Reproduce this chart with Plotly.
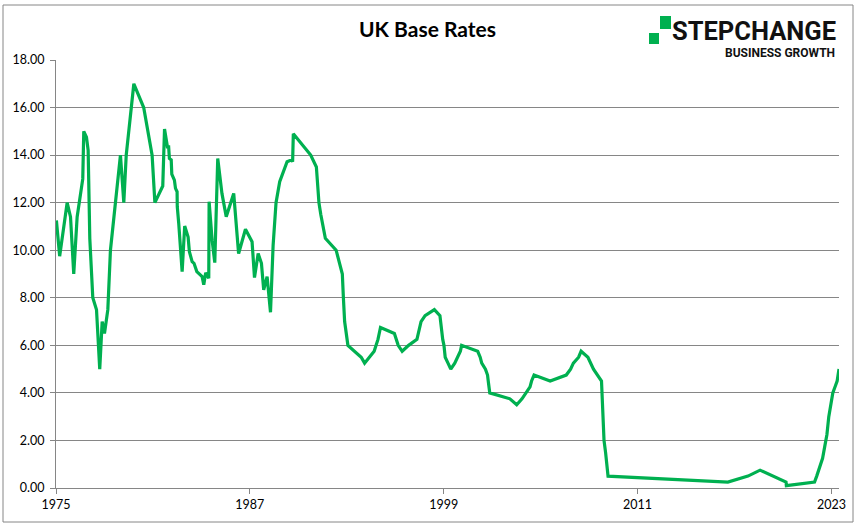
import plotly.graph_objects as go

# ---------------- data ----------------
dates = [
    "1975-01-10", "1975-03-25", "1975-09-10", "1975-11-25", "1976-02-06", "1976-04-23",
    "1976-08-28", "1976-09-20", "1976-11-20", "1976-12-28", "1977-02-03", "1977-03-07",
    "1977-03-28", "1977-04-12", "1977-07-05", "1977-07-20", "1977-09-16", "1977-11-10",
    "1978-01-01", "1978-03-18", "1978-04-10", "1978-05-16", "1978-12-28", "1979-03-14",
    "1979-05-08", "1979-10-27", "1980-06-06", "1980-12-13", "1981-02-14", "1981-08-11",
    "1981-09-20", "1981-11-03", "1981-11-24", "1981-12-22", "1982-01-08", "1982-02-18",
    "1982-03-03", "1982-05-01", "1982-05-26", "1982-07-01", "1982-07-05", "1982-08-07",
    "1982-10-23", "1982-12-20", "1983-03-07", "1983-04-05", "1983-06-06", "1983-07-19",
    "1983-09-20", "1984-01-18", "1984-02-24", "1984-04-08", "1984-06-16", "1984-06-24",
    "1984-09-01", "1984-10-30", "1985-01-05", "1985-04-10", "1985-07-16", "1986-01-01",
    "1986-04-22", "1986-09-24", "1987-02-20", "1987-04-16", "1987-07-08", "1987-09-20",
    "1987-11-10", "1988-01-26", "1988-04-12", "1988-06-10", "1988-08-15", "1988-11-06",
    "1989-04-22", "1989-08-05", "1989-08-25", "1989-09-10",
    "1990-10-08", "1991-02-13", "1991-02-27", "1991-03-22", "1991-04-12", "1991-05-24",
    "1991-07-12", "1991-09-04", "1992-05-05", "1992-09-22", "1992-10-16", "1992-11-13",
    "1993-01-26", "1993-11-23", "1994-02-08", "1994-09-12", "1994-12-07", "1995-02-02",
    "1995-12-13", "1996-01-18", "1996-03-08", "1996-06-06", "1996-10-30", "1997-05-06",
    "1997-06-06", "1997-07-10", "1997-08-07", "1997-11-06", "1998-06-04", "1998-10-08",
    "1998-11-05", "1998-12-10", "1999-01-07", "1999-02-04", "1999-04-08", "1999-06-10",
    "1999-09-08", "1999-11-04", "2000-01-13", "2000-02-10", "2001-02-08", "2001-04-05",
    "2001-05-10", "2001-08-02", "2001-09-18", "2001-10-04", "2001-11-08", "2003-02-06",
    "2003-07-10", "2003-11-06", "2004-02-05", "2004-05-06", "2004-06-10", "2004-08-05",
    "2005-08-04", "2006-08-03", "2006-11-09", "2007-01-11", "2007-05-10", "2007-07-05",
    "2007-12-06", "2008-02-07", "2008-04-10", "2008-10-08", "2008-11-06", "2008-12-04",
    "2009-01-08", "2009-02-05", "2009-03-05", "2016-08-04", "2017-11-02", "2018-08-02",
    "2020-03-11", "2020-03-19", "2021-12-16", "2022-02-03", "2022-03-17", "2022-05-05",
    "2022-06-16", "2022-08-04", "2022-09-22", "2022-11-03", "2022-12-15", "2023-02-02",
    "2023-03-23", "2023-05-11", "2023-06-22",
]
rates = [
    11.25, 9.75, 12.0, 11.4, 9.0, 11.4,
    13.0, 15.0, 14.75, 14.2, 10.5, 9.5,
    8.8, 8.0, 7.5, 7.0, 5.0, 7.0,
    6.5, 7.5, 8.8, 10.0, 14.0, 12.0,
    14.0, 17.0, 16.0, 14.0, 12.0, 12.7,
    15.1, 14.6, 14.35, 14.35, 13.86, 13.8,
    13.2, 12.95, 12.6, 12.46, 11.83, 11.13,
    9.1, 11.02, 10.55, 9.94, 9.52, 9.45,
    9.1, 8.89, 8.55, 9.05, 8.82, 12.04,
    10.4, 9.48, 13.86, 12.39, 11.41, 12.39,
    9.86, 10.88, 10.36, 8.85, 9.86, 9.45,
    8.33, 8.89, 7.39, 10.2, 12.0, 12.88,
    13.72, 13.8, 13.72, 14.9,
    14.0, 13.5, 13.0, 12.5, 12.0, 11.5,
    11.0, 10.5, 10.0, 9.0, 8.0, 7.0,
    6.0, 5.5, 5.25, 5.75, 6.25, 6.75,
    6.5, 6.25, 6.0, 5.75, 6.0, 6.25,
    6.5, 6.75, 7.0, 7.25, 7.5, 7.25,
    6.75, 6.25, 6.0, 5.5, 5.25, 5.0,
    5.25, 5.5, 5.75, 6.0, 5.75, 5.5,
    5.25, 5.0, 4.75, 4.5, 4.0, 3.75,
    3.5, 3.75, 4.0, 4.25, 4.5, 4.75,
    4.5, 4.75, 5.0, 5.25, 5.5, 5.75,
    5.5, 5.25, 5.0, 4.5, 3.0, 2.0,
    1.5, 1.0, 0.5, 0.25, 0.5, 0.75,
    0.25, 0.1, 0.25, 0.5, 0.75, 1.0,
    1.25, 1.75, 2.25, 3.0, 3.5, 4.0,
    4.25, 4.5, 5.0,
]
tick_dates = ["1975-01-01", "1987-01-01", "1999-01-01", "2011-01-01", "2023-01-01"]
tick_labels = ["1975", "1987", "1999", "2011", "2023"]
y_ticks = [0, 2, 4, 6, 8, 10, 12, 14, 16, 18]

# ---------------- geometry ----------------
W, H = 858, 527
ML, MR, MT, MB = 56, 19, 60, 39
PW, PH = W - ML - MR, H - MT - MB


def xp(px):
    return (px - ML) / PW


def yp(py):
    return (H - MB - py) / PH


GRID = "#868686"
GREEN = "#00B050"

fig = go.Figure()
fig.add_trace(go.Scatter(
    x=dates, y=rates, mode="lines",
    line=dict(color=GREEN, width=3.2), hoverinfo="skip", showlegend=False,
))

fig.update_layout(
    width=W, height=H,
    margin=dict(l=ML, r=MR, t=MT, b=MB, pad=0),
    paper_bgcolor="white", plot_bgcolor="white",
    font=dict(family="Lato, Carlito, Calibri, sans-serif", size=12.5, color="#000000"),
    xaxis=dict(
        type="date", range=["1975-01-01", "2023-06-22"],
        tickvals=tick_dates, ticktext=tick_labels,
        showgrid=False, zeroline=False,
        showline=True, linecolor=GRID, linewidth=1,
        ticks="outside", ticklen=5, tickcolor=GRID, tickwidth=1,
        tickfont=dict(size=12.5, color="#000000"),
    ),
    yaxis=dict(
        range=[0, 18], tickvals=y_ticks, tickformat=".2f",
        showgrid=True, gridcolor=GRID, gridwidth=1, zeroline=False,
        showline=True, linecolor=GRID, linewidth=1,
        ticks="outside", ticklen=5, tickcolor=GRID, tickwidth=1,
        tickfont=dict(size=12.5, color="#000000"),
        ticklabelstandoff=3,
    ),
    shapes=[
        # chart border
        dict(type="rect", xref="paper", yref="paper",
             x0=xp(3), x1=xp(853), y0=yp(522), y1=yp(5),
             line=dict(color=GRID, width=1), fillcolor="rgba(0,0,0,0)", layer="below"),
        # logo squares
        dict(type="rect", xref="paper", yref="paper",
             x0=xp(649), x1=xp(659), y0=yp(44), y1=yp(33),
             line=dict(width=0), fillcolor=GREEN),
        dict(type="rect", xref="paper", yref="paper",
             x0=xp(660), x1=xp(671), y0=yp(29), y1=yp(16),
             line=dict(width=0), fillcolor=GREEN),
    ],
    annotations=[
        dict(text="<b>UK Base Rates</b>", xref="paper", yref="paper",
             x=xp(427.5), y=yp(29), xanchor="center", yanchor="middle", showarrow=False,
             font=dict(family="Lato, sans-serif", size=21, color="#000000")),
        dict(text="<b>STEPCHANGE</b>", xref="paper", yref="paper",
             x=xp(837), y=yp(31), xanchor="right", yanchor="middle", showarrow=False,
             borderpad=0,
             font=dict(family="Liberation Sans Narrow, Roboto, sans-serif", size=25.5, color="#111111")),
        dict(text="<b>BUSINESS GROWTH</b>", xref="paper", yref="paper",
             x=xp(836), y=yp(53), xanchor="right", yanchor="middle", showarrow=False,
             borderpad=0,
             font=dict(family="Liberation Sans Narrow, Roboto, sans-serif", size=12, color="#111111")),
    ],
)

fig.write_html("out.html")
